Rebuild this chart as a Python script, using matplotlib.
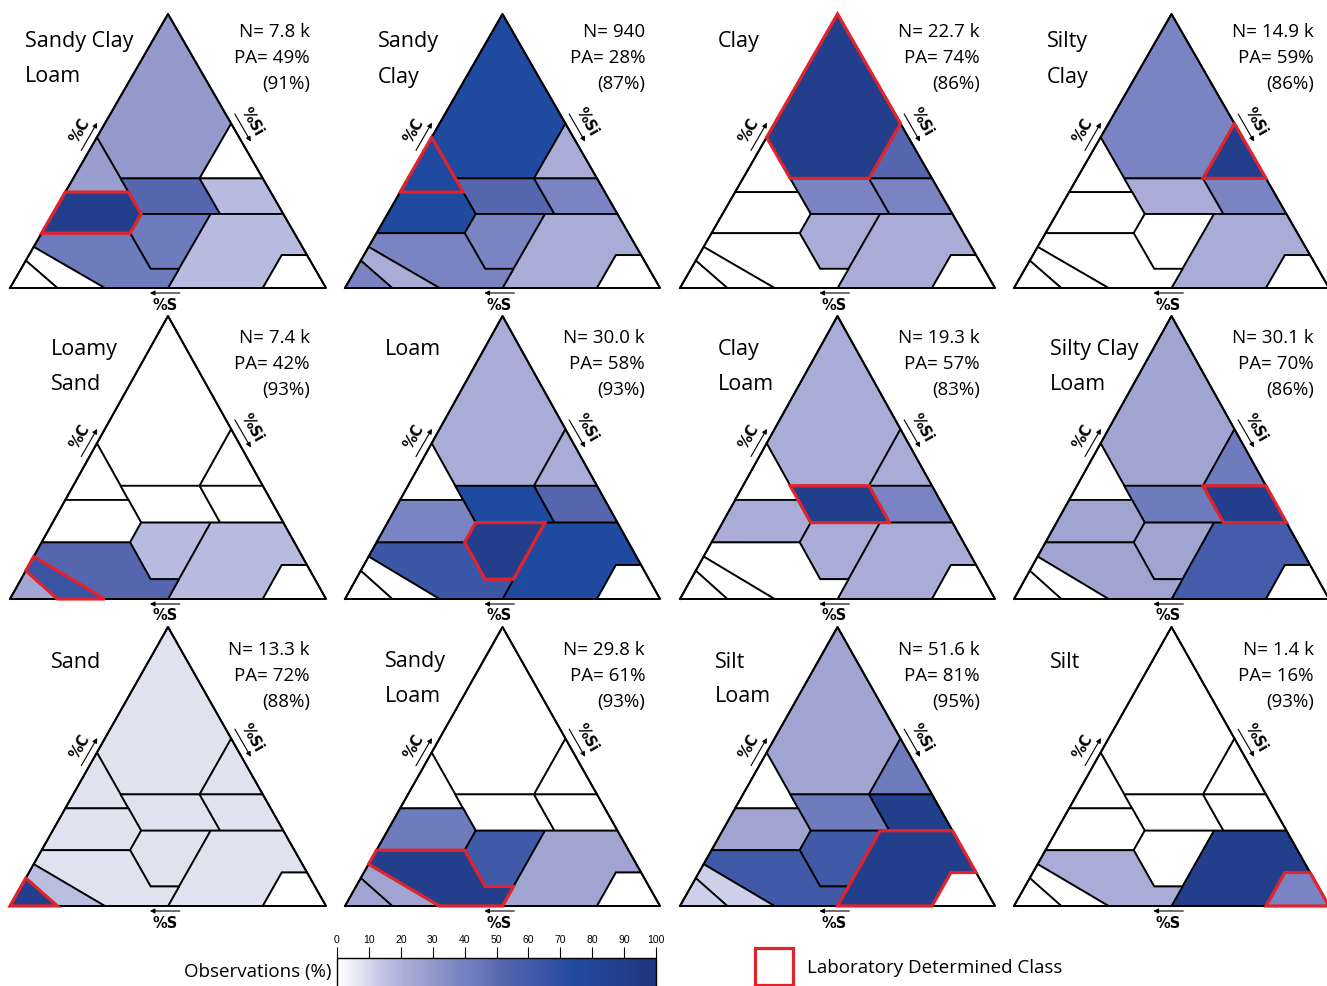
import matplotlib

matplotlib.use("Agg")
import matplotlib.pyplot as plt
import numpy as np
from matplotlib.colorbar import ColorbarBase
from matplotlib.colors import LinearSegmentedColormap, Normalize
from matplotlib.patches import Rectangle
from matplotlib.transforms import offset_copy

W, H, DPI = 1327, 986, 100
SQ = np.sqrt(3) / 2
LAB_RED = "#e3232b"
FONT = ["Open Sans", "DejaVu Sans"]

# USDA texture classes, vertices as (sand, silt, clay) percent
class_order = [
    "Clay", "Silty Clay", "Sandy Clay", "Clay Loam", "Silty Clay Loam",
    "Sandy Clay Loam", "Loam", "Silt Loam", "Silt", "Sandy Loam",
    "Loamy Sand", "Sand",
]
class_vertices = {
    "Clay": [(0, 0, 100), (0, 40, 60), (20, 40, 40), (45, 15, 40), (45, 0, 55)],
    "Silty Clay": [(0, 40, 60), (0, 60, 40), (20, 40, 40)],
    "Sandy Clay": [(45, 0, 55), (45, 15, 40), (45, 20, 35), (65, 0, 35)],
    "Clay Loam": [(20, 40, 40), (45, 15, 40), (45, 20, 35), (45, 28, 27),
                  (23, 50, 27), (20, 53, 27)],
    "Silty Clay Loam": [(0, 60, 40), (20, 40, 40), (20, 53, 27), (0, 73, 27)],
    "Sandy Clay Loam": [(45, 20, 35), (65, 0, 35), (80, 0, 20), (52, 28, 20), (45, 28, 27)],
    "Loam": [(45, 28, 27), (23, 50, 27), (43, 50, 7), (52, 41, 7), (52, 28, 20)],
    "Silt Loam": [(23, 50, 27), (20, 53, 27), (0, 73, 27), (0, 88, 12), (8, 80, 12),
                  (20, 80, 0), (50, 50, 0), (43, 50, 7)],
    "Silt": [(0, 88, 12), (0, 100, 0), (20, 80, 0), (8, 80, 12)],
    "Sandy Loam": [(80, 0, 20), (52, 28, 20), (52, 41, 7), (43, 50, 7), (50, 50, 0),
                   (70, 30, 0), (85, 0, 15)],
    "Loamy Sand": [(85, 0, 15), (70, 30, 0), (85, 15, 0), (90, 0, 10)],
    "Sand": [(90, 0, 10), (85, 15, 0), (100, 0, 0)],
}

# laboratory class of each panel and its summary numbers
panel_classes = [
    "Sandy Clay Loam", "Sandy Clay", "Clay", "Silty Clay",
    "Loamy Sand", "Loam", "Clay Loam", "Silty Clay Loam",
    "Sand", "Sandy Loam", "Silt Loam", "Silt",
]
panel_titles = [
    ["Sandy Clay", "Loam"], ["Sandy", "Clay"], ["Clay"], ["Silty", "Clay"],
    ["Loamy", "Sand"], ["Loam"], ["Clay", "Loam"], ["Silty Clay", "Loam"],
    ["Sand"], ["Sandy", "Loam"], ["Silt", "Loam"], ["Silt"],
]
n_labels = ["7.8 k", "940", "22.7 k", "14.9 k", "7.4 k", "30.0 k",
            "19.3 k", "30.1 k", "13.3 k", "29.8 k", "51.6 k", "1.4 k"]
pa_values = [49, 28, 74, 59, 42, 58, 57, 70, 72, 61, 81, 16]
pa_near = [91, 87, 86, 86, 93, 93, 83, 86, 88, 93, 95, 93]

# observations (%) per predicted class, in class_order
obs_sandy_clay_loam = [30, 0, 28, 52, 17, 88, 43, 17, 0, 43, 0, 0]
obs_sandy_clay = [75, 22, 76, 52, 38, 75, 38, 22, 0, 38, 22, 38]
obs_clay = [88, 52, 0, 38, 38, 0, 22, 22, 0, 0, 0, 0]
obs_silty_clay = [38, 88, 0, 22, 38, 0, 0, 22, 0, 0, 0, 0]
obs_loamy_sand = [0, 0, 0, 0, 0, 0, 17, 17, 0, 52, 66, 24]
obs_loam = [22, 22, 0, 75, 52, 38, 88, 75, 0, 64, 0, 0]
obs_clay_loam = [22, 22, 0, 88, 38, 22, 22, 22, 0, 0, 0, 0]
obs_silty_clay_loam = [25, 43, 0, 43, 88, 25, 25, 60, 0, 25, 0, 0]
obs_sand = [8, 8, 8, 8, 8, 8, 8, 8, 0, 8, 16, 88]
obs_sandy_loam = [0, 0, 0, 0, 0, 43, 62, 25, 0, 88, 25, 25]
obs_silt_loam = [25, 43, 0, 43, 88, 25, 62, 88, 0, 62, 12, 12]
obs_silt = [0, 0, 0, 0, 0, 0, 0, 88, 38, 22, 0, 0]
panel_obs = [
    obs_sandy_clay_loam, obs_sandy_clay, obs_clay, obs_silty_clay,
    obs_loamy_sand, obs_loam, obs_clay_loam, obs_silty_clay_loam,
    obs_sand, obs_sandy_loam, obs_silt_loam, obs_silt,
]
cbar_ticks = [0, 10, 20, 30, 40, 50, 60, 70, 80, 90, 100]

cmap = LinearSegmentedColormap.from_list(
    "obs",
    [(0.00, "#ffffff"), (0.08, "#dfe1f0"), (0.16, "#b9bde0"), (0.23, "#a5a9d4"),
     (0.30, "#9399cb"), (0.38, "#7a84c2"), (0.44, "#6c79bc"), (0.52, "#5566ae"),
     (0.62, "#405aa8"), (0.68, "#3350a0"), (0.75, "#1f4aa0"), (0.88, "#233f8c"),
     (1.00, "#1f3580")],
)
norm = Normalize(0, 100)

# panel boxes in pixels
col_left = [10, 345, 680, 1014]
col_width = [316, 315, 315, 315]
row_apex = [14, 316, 627]
row_base = [288, 599, 906]
row_name_dy = [28, 34, 35]
row_stat_dy = [18, 22, 23]
name_dx = [15, 33, 38, 33, 41, 40, 38, 36, 41, 40, 35, 36]


def to_xy(verts):
    v = np.asarray(verts, dtype=float) / 100.0
    x = v[:, 1] + v[:, 2] / 2.0
    y = v[:, 2] * SQ
    return x, y


def fig_xy(px, py):
    return px / W, 1 - py / H


fig = plt.figure(figsize=(W / DPI, H / DPI), dpi=DPI)


def side_label(ax, text, px, py, nx, ny, ux, uy, rot, t_off, a_off, a_len=16):
    """Axis name offset from a triangle side, with an arrow along the side."""
    t_tr = offset_copy(ax.transData, fig=fig, x=nx * t_off, y=ny * t_off, units="dots")
    ax.text(px, py, text, transform=t_tr, rotation=rot, ha="center", va="center",
            fontsize=10.5, fontweight="bold", family=["DejaVu Sans"],
            rotation_mode="anchor")
    s_tr = offset_copy(ax.transData, fig=fig, x=nx * a_off - ux * a_len,
                       y=ny * a_off - uy * a_len, units="dots")
    e_tr = offset_copy(ax.transData, fig=fig, x=nx * a_off + ux * a_len,
                       y=ny * a_off + uy * a_len, units="dots")
    ax.annotate("", xy=(px, py), xycoords=e_tr, xytext=(px, py), textcoords=s_tr,
                arrowprops=dict(arrowstyle="-|>", lw=0.8, color="black",
                                mutation_scale=7, shrinkA=0, shrinkB=0))


for i, lab in enumerate(panel_classes):
    r, c = divmod(i, 4)
    left, width = col_left[c], col_width[c]
    apex, base = row_apex[r], row_base[r]
    ax = fig.add_axes([left / W, 1 - base / H, width / W, (base - apex) / H])
    ax.set_xlim(0, 1)
    ax.set_ylim(0, SQ)
    ax.axis("off")

    for name, val in zip(class_order, panel_obs[i]):
        x, y = to_xy(class_vertices[name])
        ax.fill(x, y, facecolor=cmap(norm(val)), edgecolor="black",
                linewidth=1.3, clip_on=False, zorder=2)
    ax.plot([0, 1, 0.5, 0], [0, 0, SQ, 0], color="black", lw=1.4,
            clip_on=False, zorder=3)
    x, y = to_xy(class_vertices[lab])
    ax.fill(x, y, facecolor="none", edgecolor=LAB_RED, linewidth=2.3,
            joinstyle="miter", clip_on=False, zorder=4)

    t = 0.46
    side_label(ax, "%C", 0.5 * (1 - t), SQ * (1 - t), -0.866, 0.5, 0.5, 0.866, 60, 18, 7)
    t = 0.43
    side_label(ax, "%Si", 0.5 + 0.5 * t, SQ * (1 - t), 0.866, 0.5, 0.5, -0.866, -60, 19, 8)
    side_label(ax, "%S", 0.49, 0.0, 0.0, -1.0, -1.0, 0.0, 0, 17, 5, 15)

    # class name and accuracy summary
    for k, line in enumerate(panel_titles[i]):
        fig.text(*fig_xy(left + name_dx[i], apex + row_name_dy[r] + 35 * k),
                 line, ha="left", va="center", fontsize=15.5, family=FONT)
    stats = [f"N= {n_labels[i]}", f"PA= {pa_values[i]}%", f"({pa_near[i]}%)"]
    for k, line in enumerate(stats):
        fig.text(*fig_xy(left + 300, apex + row_stat_dy[r] + 26 * k), line,
                 ha="right", va="center", fontsize=13.5, family=FONT)

# colour scale
cax = fig.add_axes([337 / W, 1 - 992 / H, (656 - 337) / W, (992 - 958) / H])
cb = ColorbarBase(cax, cmap=cmap, norm=norm, orientation="horizontal", ticks=cbar_ticks)
cax.xaxis.set_ticks_position("top")
cax.tick_params(axis="x", length=8, width=0.8, labelsize=7.5, pad=1.5)
for lbl in cax.get_xticklabels():
    lbl.set_family(["Liberation Sans", "DejaVu Sans"])
cb.outline.set_linewidth(1.0)
fig.text(*fig_xy(332, 972), "Observations (%)", ha="right", va="center",
         fontsize=13.5, family=FONT)

# legend for the laboratory class outline
lx, ly = fig_xy(755, 985)
fig.add_artist(Rectangle((lx, ly), 38 / W, 37 / H, transform=fig.transFigure,
                         fill=False, edgecolor=LAB_RED, linewidth=2.3))
fig.text(*fig_xy(807, 968), "Laboratory Determined Class", ha="left", va="center",
         fontsize=13.5, family=FONT)

fig.savefig("out.png", dpi=DPI)
